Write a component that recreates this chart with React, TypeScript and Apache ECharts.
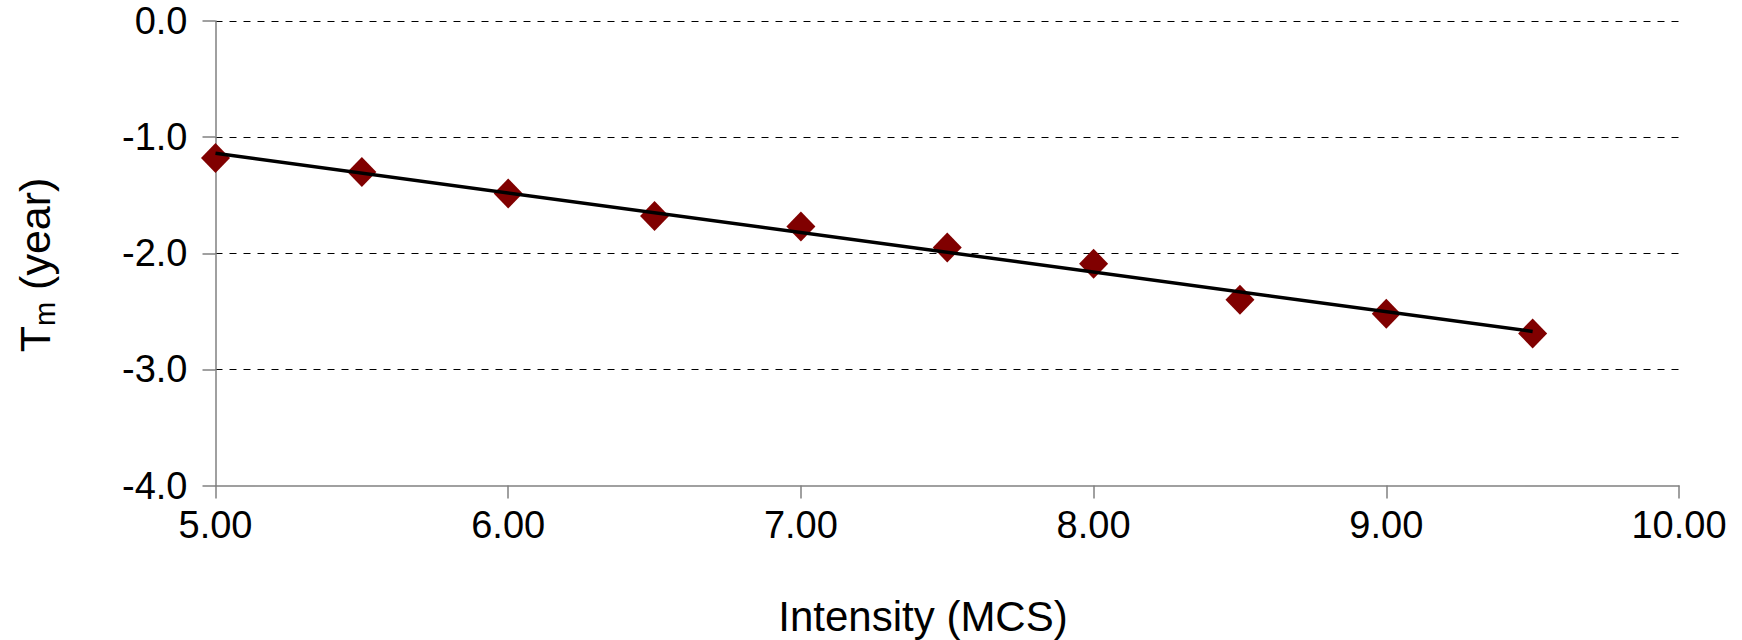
import React, { useEffect, useRef } from "react";
import * as echarts from "echarts";

const intensity = [5.0, 5.5, 6.0, 6.5, 7.0, 7.5, 8.0, 8.5, 9.0, 9.5];
const tmYears = [-1.18, -1.3, -1.485, -1.68, -1.77, -1.95, -2.09, -2.4, -2.52, -2.69];
const xTicks = { min: 5, max: 10, interval: 1 };
const yTicks = { min: -4, max: 0, interval: 1 };
const xTitle = "Intensity (MCS)";
const yTitleRich = "{t|T}{s|m}{t| (year)}";

function linearFit(xs: number[], ys: number[]) {
  const n = xs.length;
  const mx = xs.reduce((a, b) => a + b, 0) / n;
  const my = ys.reduce((a, b) => a + b, 0) / n;
  let sxy = 0;
  let sxx = 0;
  for (let i = 0; i < n; i++) {
    sxy += (xs[i] - mx) * (ys[i] - my);
    sxx += (xs[i] - mx) * (xs[i] - mx);
  }
  const slope = sxy / sxx;
  const icpt = my - slope * mx;
  return [xs[0], xs[n - 1]].map((x) => [x, icpt + slope * x]);
}

const FONT = "'Liberation Sans', Arial, sans-serif";

export default function App() {
  const ref = useRef<HTMLDivElement>(null);
  useEffect(() => {
    if (!ref.current) return;
    const chart = echarts.init(ref.current, null, { renderer: "svg" });
    const trend = linearFit(intensity, tmYears);
    chart.setOption({
      animation: false,
      backgroundColor: "#ffffff",
      textStyle: { fontFamily: FONT, color: "#000" },
      grid: { left: 215.5, right: 63, top: 21, bottom: 154.5, containLabel: false },
      graphic: [
        {
          type: "text",
          x: 923,
          y: 616,
          style: {
            text: xTitle,
            fontSize: 42,
            fontFamily: FONT,
            fill: "#000",
            align: "center",
            verticalAlign: "middle",
          },
        },
        {
          type: "text",
          x: 31,
          y: 265,
          rotation: Math.PI / 2,
          style: {
            text: yTitleRich,
            fontFamily: FONT,
            fill: "#000",
            align: "center",
            verticalAlign: "middle",
            rich: {
              t: { fontSize: 43, fontFamily: FONT, fill: "#000", lineHeight: 50, verticalAlign: "bottom" },
              s: { fontSize: 29, fontFamily: FONT, fill: "#000", lineHeight: 50, verticalAlign: "bottom", padding: [0, 0, -3, 0] },
            },
          },
        },
      ],
      xAxis: {
        type: "value",
        min: xTicks.min,
        max: xTicks.max,
        interval: xTicks.interval,
        axisLine: { show: true, onZero: false, lineStyle: { color: "#808080", width: 1.5 } },
        axisTick: { show: true, length: 13, lineStyle: { color: "#808080", width: 1.5 } },
        axisLabel: {
          fontSize: 38,
          fontFamily: FONT,
          color: "#000",
          margin: 20,
          formatter: (v: number) => v.toFixed(2),
        },
        splitLine: { show: false },
      },
      yAxis: {
        type: "value",
        min: yTicks.min,
        max: yTicks.max,
        interval: yTicks.interval,
        axisLine: { show: true, onZero: false, lineStyle: { color: "#808080", width: 1.5 } },
        axisTick: { show: true, length: 13, lineStyle: { color: "#808080", width: 1.5 } },
        axisLabel: {
          fontSize: 38,
          fontFamily: FONT,
          color: "#000",
          margin: 28,
          formatter: (v: number) => v.toFixed(1),
        },
        splitLine: {
          show: true,
          showMinLine: false,
          lineStyle: { color: "#000", width: 1, type: [7, 7] },
        },
      },
      series: [
        {
          type: "line",
          data: trend,
          showSymbol: false,
          symbol: "none",
          lineStyle: { color: "#000", width: 3.5 },
          z: 3,
        },
        {
          type: "scatter",
          data: intensity.map((x, i) => [x, tmYears[i]]),
          symbol: "diamond",
          symbolSize: [29, 30],
          itemStyle: { color: "#800000", opacity: 1 },
          z: 2,
        },
      ],
    });
    return () => chart.dispose();
  }, []);
  return <div ref={ref} style={{ width: 1742, height: 640, position: "absolute", left: 0, top: 0 }} />;
}
